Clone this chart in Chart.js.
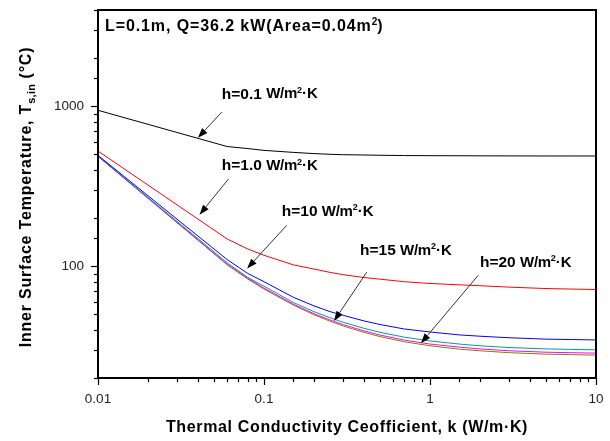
<!DOCTYPE html>
<html><head><meta charset="utf-8">
<script src="https://cdn.jsdelivr.net/npm/chart.js@4"></script>
<style>html,body{margin:0;padding:0;background:#fff}#wrap{width:610px;height:441px;position:relative}</style>
</head><body><div id="wrap"><canvas id="c" width="610" height="441"></canvas></div>
<script>
// ---- data ----
const kValues = [0.01, 0.06, 0.08, 0.1, 0.15, 0.2, 0.25, 0.3, 0.4, 0.5, 0.7, 1, 1.5, 2, 3, 5, 7, 10];
const tH01 = [944, 560, 544, 530, 515, 506, 501, 498, 496, 494, 492, 491, 490.5, 490, 489.5, 489, 489, 489];
const tH1  = [525, 148, 128, 117, 102, 96, 91.5, 88.5, 85, 83, 80, 78, 76.5, 75.5, 74, 72.5, 72, 71.5];
const tH10 = [493, 110, 90, 80, 64, 56.5, 52, 49.3, 45.5, 43.2, 40.5, 38.8, 37.2, 36.5, 35.7, 35.0, 34.8, 34.6];
const tH15 = [489, 105, 85, 75, 59.4, 52, 47.6, 44.6, 40.9, 38.6, 36, 34.1, 32.6, 31.8, 31, 30.4, 30.2, 30.0];
const tH20 = [487, 103, 84, 73, 58, 50.5, 46.1, 43.1, 39.4, 37.1, 34.5, 32.6, 31.2, 30.4, 29.6, 29.0, 28.8, 28.6];
const tH25 = [486, 102, 83, 72, 57.2, 49.7, 45.3, 42.3, 38.6, 36.3, 33.7, 31.8, 30.3, 29.6, 28.8, 28.2, 28.0, 27.8];
const seriesNames = ['h=0.1', 'h=1.0', 'h=10', 'h=15', 'h=20', 'h=25'];
const seriesColors = ['#000000', '#ff0000', '#0000ff', '#009a9a', '#ff00ff', '#808000'];
const seriesData = [tH01, tH1, tH10, tH15, tH20, tH25];

const xTickLabels = ['0.01', '0.1', '1', '10'];
const yTickLabels = ['100', '1000'];
const xMin = 0.01, xMax = 10, yMin = 20, yMax = 4000;

const titleText = 'L=0.1m, Q=36.2 kW(Area=0.04m';
const xTitle = 'Thermal Conductivity Ceofficient, k (W/m\u00B7K)';
const yTitleMain = 'Inner Surface Temperature, T';
const yTitleSub = 's,in';
const yTitleEnd = ' (\u00B0C)';

// curve labels and arrows, positioned in data space (k, T)
const labelTexts = ['h=0.1', 'h=1.0', 'h=10', 'h=15', 'h=20'];
const labelK = [0.0557, 0.0557, 0.128, 0.379, 2.0];
const labelT = [1188, 423, 219, 125, 105];
const arrowFromK = [0.0557, 0.0611, 0.137, 0.416, 1.95];
const arrowFromT = [921, 351, 180, 91.8, 87.6];
const arrowToK = [0.040, 0.0409, 0.0791, 0.264, 0.882];
const arrowToT = [635, 210, 96.8, 45.4, 33.0];

const FONT = '"Liberation Sans", Arial, sans-serif';

function isPow10(v) { const l = Math.log10(v); return Math.abs(l - Math.round(l)) < 1e-6; }
function matchLabel(v, list) {
  for (const s of list) { const n = parseFloat(s); if (Math.abs(v - n) / n < 1e-6) return s; }
  return '';
}

function drawParts(ctx, parts, x, y, align) {
  let total = 0;
  for (const p of parts) { ctx.font = 'bold ' + p.size + 'px ' + FONT; ctx.letterSpacing = (p.ls || 0) + 'px'; p.w = ctx.measureText(p.t).width; total += p.w; }
  let cx = align === 'center' ? x - total / 2 : x;
  for (const p of parts) {
    ctx.font = 'bold ' + p.size + 'px ' + FONT; ctx.letterSpacing = (p.ls || 0) + 'px';
    ctx.fillText(p.t, cx, y + (p.dy || 0));
    cx += p.w;
  }
  ctx.letterSpacing = '0px';
}

const decor = {
  id: 'decor',
  afterDraw(chart) {
    const ctx = chart.ctx, a = chart.chartArea, xs = chart.scales.x, ys = chart.scales.y;
    ctx.save();
    ctx.strokeStyle = '#000'; ctx.lineWidth = 1.2;
    for (const t of xs.ticks) {
      const px = Math.round(xs.getPixelForValue(t.value)) + 0.5;
      const len = isPow10(t.value) ? 7 : 4;
      ctx.beginPath(); ctx.moveTo(px, a.bottom); ctx.lineTo(px, a.bottom + len); ctx.stroke();
    }
    for (const t of ys.ticks) {
      const py = Math.round(ys.getPixelForValue(t.value)) + 0.5;
      const len = isPow10(t.value) ? 7 : 4;
      ctx.beginPath(); ctx.moveTo(a.left, py); ctx.lineTo(a.left - len, py); ctx.stroke();
    }
    ctx.lineWidth = 2;
    ctx.strokeRect(a.left, a.top, a.right - a.left, a.bottom - a.top);

    for (let i = 0; i < arrowFromK.length; i++) {
      const x1 = xs.getPixelForValue(arrowFromK[i]), y1 = ys.getPixelForValue(arrowFromT[i]);
      const x2 = xs.getPixelForValue(arrowToK[i]), y2 = ys.getPixelForValue(arrowToT[i]);
      const ang = Math.atan2(y2 - y1, x2 - x1);
      const hl = 10, hw = 3.6;
      const bx = x2 - hl * Math.cos(ang), by = y2 - hl * Math.sin(ang);
      ctx.strokeStyle = '#333'; ctx.lineWidth = 1;
      ctx.beginPath(); ctx.moveTo(x1, y1); ctx.lineTo(bx, by); ctx.stroke();
      ctx.fillStyle = '#000';
      ctx.beginPath();
      ctx.moveTo(x2, y2);
      ctx.lineTo(bx + hw * Math.sin(ang), by - hw * Math.cos(ang));
      ctx.lineTo(bx - hw * Math.sin(ang), by + hw * Math.cos(ang));
      ctx.closePath(); ctx.fill();
    }
    ctx.fillStyle = '#000'; ctx.textBaseline = 'middle'; ctx.textAlign = 'left';
    for (let i = 0; i < labelTexts.length; i++) {
      const x = xs.getPixelForValue(labelK[i]), y = ys.getPixelForValue(labelT[i]);
      drawParts(ctx, [
        {t: labelTexts[i] + ' ', size: 15.5},
        {t: 'W/m', size: 15, ls: -0.3},
        {t: '2', size: 9, dy: -4},
        {t: '\u00B7K', size: 15}
      ], x, y, 'left');
    }
    drawParts(ctx, [
      {t: titleText, size: 16, ls: 0.9},
      {t: '2', size: 10, dy: -5},
      {t: ')', size: 16}
    ], a.left + 7, a.top + 17, 'left');

    drawParts(ctx, [{t: xTitle, size: 16, ls: 0.65}], 347, 428, 'center');

    ctx.translate(27, 197);
    ctx.rotate(-Math.PI / 2);
    drawParts(ctx, [
      {t: yTitleMain, size: 16, ls: 0.8},
      {t: yTitleSub, size: 11, dy: 5, ls: 0.3},
      {t: yTitleEnd, size: 16, ls: 0.8}
    ], 0, 0, 'center');
    ctx.restore();
  }
};

const datasets = seriesData.map((d, i) => ({
  label: seriesNames[i],
  data: kValues.map((k, j) => ({x: k, y: d[j]})),
  borderColor: seriesColors[i],
  backgroundColor: seriesColors[i],
  borderWidth: 1,
  pointRadius: 0,
  tension: 0,
  fill: false
}));

new Chart(document.getElementById('c'), {
  type: 'line',
  data: {datasets},
  plugins: [decor],
  options: {
    responsive: false,
    animation: false,
    devicePixelRatio: 1,
    layout: {padding: {top: 10, right: 14, bottom: 0, left: 0}},
    plugins: {legend: {display: false}, tooltip: {enabled: false}, title: {display: false}},
    scales: {
      x: {
        type: 'logarithmic', min: xMin, max: xMax,
        grid: {display: false, drawTicks: false},
        border: {display: false},
        ticks: {
          autoSkip: false, maxRotation: 0, padding: 13, color: '#222',
          font: {family: FONT, size: 13.5},
          callback: (v) => matchLabel(v, xTickLabels)
        },
        afterFit: (s) => { s.height = 63; s.paddingLeft = 0; s.paddingRight = 0; }
      },
      y: {
        type: 'logarithmic', min: yMin, max: yMax,
        grid: {display: false, drawTicks: false},
        border: {display: false},
        ticks: {
          autoSkip: false, padding: 14, color: '#222',
          font: {family: FONT, size: 13.5},
          callback: (v) => matchLabel(v, yTickLabels)
        },
        afterFit: (s) => { s.width = 98; s.paddingTop = 0; s.paddingBottom = 0; }
      }
    }
  }
});
</script>
</body></html>
